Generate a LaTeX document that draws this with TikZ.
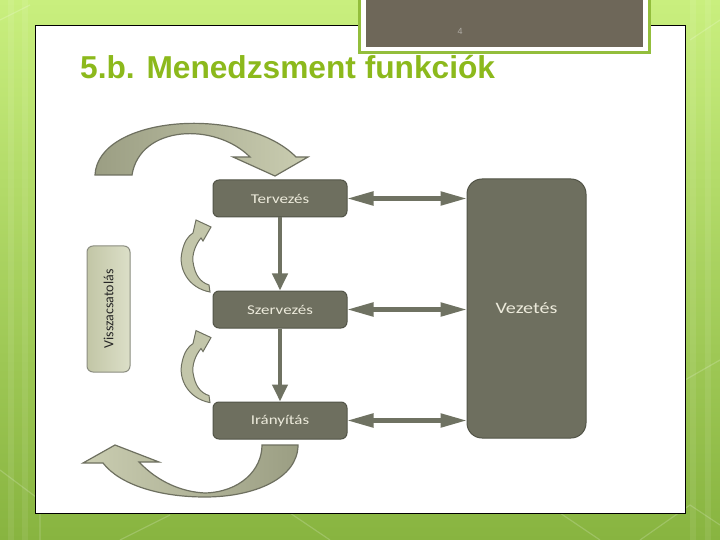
\documentclass[tikz,border=0pt]{standalone}
\usepackage{fontspec}
\setmainfont{Liberation Sans}
\newfontfamily\boxfont{Carlito}[FakeStretch=1.26]
\newfontfamily\calfont{Carlito}
\usetikzlibrary{arrows.meta,shadings}
\definecolor{bgtop}{HTML}{C9EF7E}
\definecolor{bgbot}{HTML}{88B440}
\definecolor{boxfill}{HTML}{6E6F5F}
\definecolor{boxedge}{HTML}{525447}
\definecolor{boxtext}{HTML}{ECEADB}
\definecolor{arrowgray}{HTML}{6F7262}
\definecolor{titlegreen}{HTML}{8CB91C}
\definecolor{curvedark}{HTML}{9B9E83}
\definecolor{curvelight}{HTML}{CACDB1}
\definecolor{curveedge}{HTML}{6E7060}
\definecolor{fbtop}{HTML}{DCDFC8}
\definecolor{fbbot}{HTML}{C2C6A6}
\definecolor{numbox}{HTML}{6E6759}
\definecolor{numframe}{HTML}{93BE3C}
\tikzset{
  fbox/.style={draw=boxedge, line width=1bp, fill=boxfill, rounded corners=6bp,
    text=boxtext, font=\boxfont\fontsize{13.5}{15}\selectfont, inner sep=0pt},
  harrow/.style={draw=arrowgray, line width=5bp, shorten >=-1bp, shorten <=-1bp,
    {Triangle[length=27bp,width=13bp]}-{Triangle[length=27bp,width=13bp]}},
  varrow/.style={draw=arrowgray, line width=4bp, -{Triangle[length=17bp,width=15bp]}},
  curvearrow/.style={draw=curveedge, line width=1.2bp, left color=curvedark, right color=curvelight},
  smallarrow/.style={draw=curveedge, line width=1bp, fill=curvelight!85!curvedark},
  bgline/.style={draw=white, opacity=0.18, line width=1.2bp}
}
\begin{document}
\begin{tikzpicture}[x=1bp,y=-1bp]
\useasboundingbox (0,0) rectangle (720,540);
% background
\shade[top color=bgtop, bottom color=bgbot] (0,0) rectangle (720,540);
\foreach \xx in {8,22,690,705} {\fill[white,opacity=0.08] (\xx,0) rectangle (\xx+6,540);}
\draw[bgline] (0,470) -- (40,500) -- (40,540);
\draw[bgline] (0,20) -- (30,5);
\draw[bgline] (120,540) -- (170,515);
\draw[bgline] (290,513) -- (330,540);
\draw[bgline] (560,513) -- (600,540);
\draw[bgline] (640,540) -- (690,505) -- (720,525);
\draw[bgline] (690,40) -- (720,20);
\draw[bgline] (685,380) -- (720,360);
% white panel
\node[draw=black, line width=1bp, fill=white, minimum width=649bp, minimum height=487bp, inner sep=0pt]
  (panel) at (360.5,269.5) {};
% page number box
\node[draw=numframe, line width=3bp, fill=white, minimum width=290bp, minimum height=58bp, inner sep=0pt]
  (numframebox) at (504,24) {};
\node[fill=numbox, minimum width=277bp, minimum height=50bp, inner sep=0pt] (numinner) at (504.5,22) {};
\node[text=numbox!55!white, font=\fontsize{9}{10}\selectfont] (pagenum) at (460,31) {4};
% title
\node[anchor=base west, text=titlegreen, font=\bfseries\fontsize{31.8}{36}\selectfont, inner sep=0pt]
  (title) at (80,79) {5.b. Menedzsment funkciók};
% boxes
\node[fbox, minimum width=134bp, minimum height=37bp] (terv) at (280,198.5) {Tervezés};
\node[fbox, minimum width=134bp, minimum height=37bp] (szerv) at (280,309.5) {Szervezés};
\node[fbox, minimum width=134bp, minimum height=37bp] (irany) at (280,420.5) {Irányítás};
\node[fbox, rounded corners=15bp, minimum width=119bp, minimum height=259bp,
  font=\boxfont\fontsize{16}{18}\selectfont] (vez) at (526.5,308.5) {Vezetés};
\node[draw=curveedge!80!white, line width=1bp, rounded corners=6bp, left color=fbbot, right color=fbtop,
  minimum width=43bp, minimum height=126bp, inner sep=0pt] (vissza) at (108.5,309) {};
\node[rotate=90, text=black!85, font=\calfont\fontsize{14}{15}\selectfont] (visszatext) at (vissza.center) {Visszacsatolás};
% connectors
\draw[varrow] (terv.south) -- (szerv.north);
\draw[varrow] (szerv.south) -- (irany.north);
\draw[harrow] (terv.east) -- (terv.east -| vez.west);
\draw[harrow] (szerv.east) -- (szerv.east -| vez.west);
\draw[harrow] (irany.east) -- (irany.east -| vez.west);
% big curved arrows
\draw[curvearrow] (95,175) .. controls (98,115) and (245,105) .. (296,157) -- (308,157) -- (275,176)
  -- (233,157) -- (250,157) .. controls (215,122) and (140,125) .. (132,175) -- cycle;
\draw[draw=curveedge, line width=1.2bp, left color=curvelight, right color=curvedark]
  (298,445) .. controls (298,478) and (255,497) .. (205,497) .. controls (160,497) and (120,485) .. (103,463)
  -- (83,463) -- (115,445) -- (159,462) -- (139,462) .. controls (158,482) and (182,492) .. (205,493)
  .. controls (240,492) and (262,470) .. (262,445) -- cycle;
% small curved arrows
\foreach \dy in {0,111} {
  \draw[smallarrow, yshift=-\dy] (210,292) .. controls (188,288) and (178,268) .. (182,252)
    .. controls (184,242) and (188,236) .. (193,233) -- (196,220) -- (211,227) -- (203,241) -- (201,238)
    .. controls (195,245) and (192,255) .. (193,262) .. controls (195,275) and (200,282) .. (209,285) -- cycle;
}
\end{tikzpicture}
\end{document}
